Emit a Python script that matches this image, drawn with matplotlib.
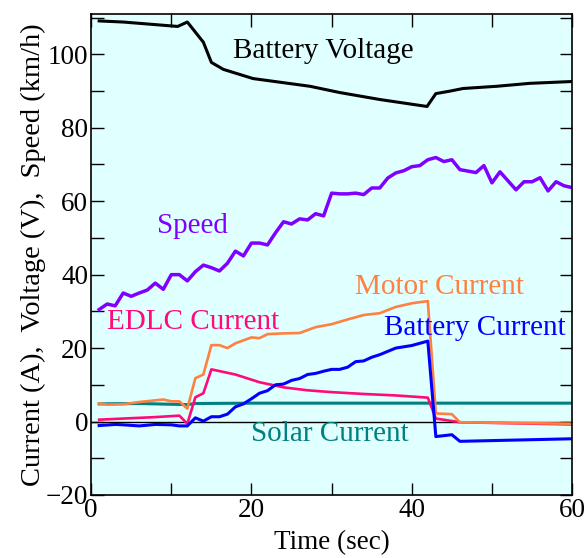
import matplotlib.pyplot as plt
from matplotlib.ticker import MultipleLocator

# values
volt_t = [1, 4, 10.8, 12, 14, 15, 16.5, 20.2, 27.3, 31, 36, 41.9, 43, 44.8, 46.4, 50.6, 54.7, 60]
volt_v = [109.1, 108.8, 107.6, 108.8, 103.3, 97.8, 95.9, 93.4, 91.3, 89.6, 87.7, 85.8, 89.3, 90, 90.7, 91.3, 92.1, 92.6]

speed_t = [1, 2, 3, 4, 5, 6, 7, 8, 9, 10, 11, 12, 13, 14, 15, 16, 17, 18, 19, 20, 21, 22, 23,
           24, 25, 26, 27, 28, 29, 30, 31, 32, 33, 34, 35, 36, 37, 38, 39, 40, 41, 42, 43, 44,
           45, 46, 48, 49, 50, 51, 53, 54, 55, 56, 57, 58, 59, 60]
speed_v = [30.5, 32, 31.5, 35, 34.1, 35, 35.8, 37.7, 36, 40, 40, 38.3, 40.8, 42.6, 41.9, 41, 43.1,
           46.4, 45.1, 48.6, 48.6, 48.1, 51.4, 54.4, 53.8, 55.2, 54.9, 56.6, 56, 62.2, 62, 62, 62.2,
           61.8, 63.6, 63.6, 66.3, 67.7, 68.3, 69.4, 69.7, 71.3, 71.9, 70.8, 71.3, 68.6, 67.8, 69.7,
           65, 68, 63.1, 65.3, 65.3, 66.4, 62.8, 65.3, 64.2, 63.7]

motor_t = [1, 2, 4, 6, 9, 10, 11, 12, 13, 14, 15, 16, 17, 18, 20, 21, 22, 24, 26, 28, 30, 32,
           34, 36, 38, 40, 42, 43, 45, 46, 60]
motor_i = [4.9, 4.6, 4.7, 5.3, 6, 5.5, 5.5, 3.5, 11.8, 12.8, 20.8, 20.8, 20, 21.3, 22.9, 22.7,
           23.8, 24, 24.1, 25.7, 26.5, 27.8, 29, 29.5, 31.2, 32.2, 32.8, 2.2, 2, -0.2, -0.6]

edlc_t = [1, 4, 8, 11, 12, 13, 14, 15, 18, 21, 24, 27, 30, 34, 38, 42, 43, 46, 60]
edlc_i = [0.5, 0.8, 1.2, 1.6, -0.6, 6.6, 7.7, 14.2, 12.8, 10.7, 9.3, 8.5, 8, 7.5, 7.1, 6.5, 0.8, -0.2, -0.8]

batt_t = [1, 3, 4, 6, 8, 10, 11, 12, 13, 14, 15, 16, 17, 18, 19, 20, 21, 22, 23, 24, 25, 26, 27,
          28, 29, 30, 31, 32, 33, 34, 35, 36, 37, 38, 40, 42, 43, 45, 46, 60]
batt_i = [-1.1, -0.8, -0.9, -1.2, -0.8, -0.9, -1.2, -1.2, 1, 0.1, 1.3, 1.3, 2, 4, 4.8, 6.2, 7.7,
          8.4, 10, 10.2, 11.2, 11.7, 12.8, 13.1, 13.7, 14.2, 14.2, 14.8, 16.3, 16.5, 17.5, 18.2,
          19.1, 20, 20.7, 21.9, -4.1, -3.6, -5.4, -4.7]

solar_t = [1, 6, 12, 13, 20, 30, 43, 50, 60]
solar_i = [4.8, 4.9, 4.6, 4.9, 5.0, 5.0, 5.0, 5.0, 5.0]

plt.rcParams['font.family'] = ['Liberation Serif', 'DejaVu Serif']

fig = plt.figure(figsize=(5.88, 5.58), dpi=100)
ax = fig.add_axes([0.155, 0.113, 0.818, 0.862])
ax.set_facecolor("#e0ffff")

ax.axhline(0, color="black", lw=1)
ax.plot(solar_t, solar_i, color="#008080", lw=2.2)
ax.plot(edlc_t, edlc_i, color="#ff0a78", lw=1.9)
ax.plot(motor_t, motor_i, color="#ff8040", lw=1.9)
ax.plot(batt_t, batt_i, color="#0000ff", lw=2.2)
ax.plot(speed_t, speed_v, color="#8000ff", lw=2.5)
ax.plot(volt_t, volt_v, color="black", lw=2.2)

fs = 21
ax.text(28.9, 100.8, "Battery Voltage", color="black", fontsize=fs, ha="center", va="center")
ax.text(12.6, 53.3, "Speed", color="#8000ff", fontsize=fs, ha="center", va="center")
ax.text(12.7, 27, "EDLC Current", color="#ff0a78", fontsize=fs, ha="center", va="center")
ax.text(43.5, 36.6, "Motor Current", color="#ff8040", fontsize=fs, ha="center", va="center")
ax.text(47.9, 25.4, "Battery Current", color="#0000ff", fontsize=fs, ha="center", va="center")
ax.text(29.8, -3.3, "Solar Current", color="#008080", fontsize=fs, ha="center", va="center")

ax.set_xlim(0, 60)
ax.set_ylim(-20, 111)
ax.xaxis.set_major_locator(MultipleLocator(20))
ax.xaxis.set_minor_locator(MultipleLocator(10))
ax.yaxis.set_major_locator(MultipleLocator(20))
ax.yaxis.set_minor_locator(MultipleLocator(10))
ax.tick_params(which="both", direction="in", top=True, right=True, labelsize=19.5, width=1, pad=2)
ax.tick_params(which="major", length=9)
ax.tick_params(which="minor", length=9)
for s in ax.spines.values():
    s.set_linewidth(1.2)

ax.set_xlabel("Time (sec)", fontsize=19.5, labelpad=5)
ax.set_ylabel("Current (A),  Voltage (V),  Speed (km/h)", fontsize=20.5, labelpad=0)

plt.savefig("out.png", dpi=100)
